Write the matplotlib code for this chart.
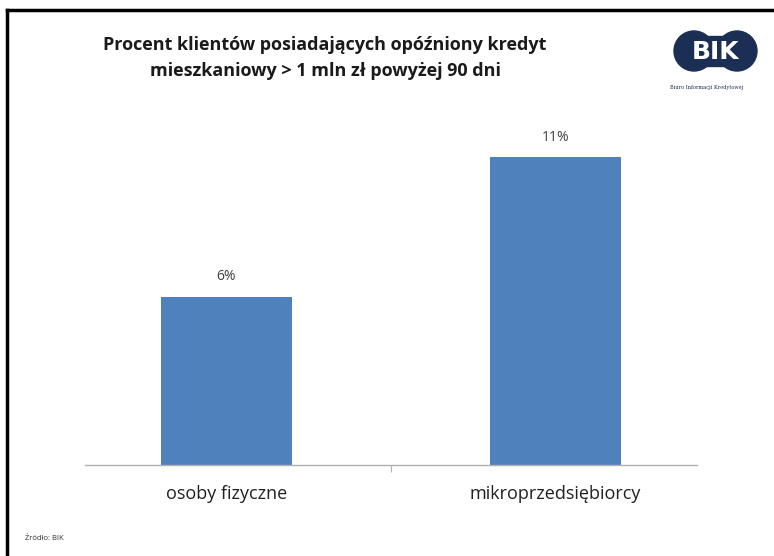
import numpy as np
import matplotlib
matplotlib.use("Agg")
import matplotlib.pyplot as plt
from matplotlib.patches import Circle, Rectangle
from matplotlib.lines import Line2D

# --- data -------------------------------------------------------------------
categories = ["osoby fizyczne", "mikroprzedsiębiorcy"]
values     = [6, 11]
value_labels = ["6%", "11%"]
title = "Procent klientów posiadających opóźniony kredyt\nmieszkaniowy > 1 mln zł powyżej 90 dni"
source = "Źródło: BIK"

W, H = 774, 556
BAR_COL = "#4F81BD"

plt.rcParams['font.family'] = ['Open Sans', 'DejaVu Sans']

fig = plt.figure(figsize=(W/100, H/100), dpi=100)
fig.patch.set_facecolor("white")

# axes placed in pixel coords: x 85..697, y 100..465 (from top)
ax = fig.add_axes([85/W, 1-465/H, (697-85)/W, (465-100)/H])
x = np.arange(len(categories))
ax.bar(x, values, width=0.40, color=BAR_COL)
for xi, v, lab in zip(x, values, value_labels):
    ax.text(xi, v + 0.45, lab, ha="center", va="bottom", fontsize=10, color="#404040")
ax.set_xlim(-0.43, 1.43)
ax.set_ylim(0, 13.04)
for s in ("top", "right", "left"):
    ax.spines[s].set_visible(False)
ax.spines["bottom"].set_color("#b0b0b0")
ax.spines["bottom"].set_linewidth(1.0)
ax.set_yticks([])
ax.set_xticks([0.5])
ax.set_xticklabels([""])
ax.tick_params(axis="x", length=5, color="#b0b0b0")
for xi, c in zip(x, categories):
    ax.text(xi, -0.72, c, ha="center", va="top", fontsize=13, color="#202020")

# title
fig.text(325/W, 1-58/H, title, ha="center", va="center", fontsize=13,
         fontweight="bold", color="#1a1a1a", linespacing=1.5)

# source note
fig.text(25/W, 1-538/H, source, ha="left", va="center", fontsize=5.5, color="#303030")

# frame lines (top and left)
fig.add_artist(Line2D([7/W, 1], [1-10/H, 1-10/H], color="black", lw=2.5))
fig.add_artist(Line2D([7/W, 7/W], [0, 1-10/H], color="black", lw=2.5))

# BIK logo
lax = fig.add_axes([0, 0, 1, 1], facecolor="none")
lax.set_xlim(0, W); lax.set_ylim(H, 0); lax.axis("off")
navy = "#1b2f55"
for cx in (694, 737):
    lax.add_patch(Circle((cx, 51), 20, color=navy))
lax.add_patch(Rectangle((694, 36), 43, 30, color=navy))
lax.text(715.5, 52, "BIK", ha="center", va="center", fontsize=18,
         fontweight="bold", color="white", family="DejaVu Sans")
lax.text(707, 88, "Biuro Informacji Kredytowej", ha="center", va="center",
         fontsize=3.6, color=navy, family="DejaVu Serif")

fig.savefig("out.png", dpi=100)
